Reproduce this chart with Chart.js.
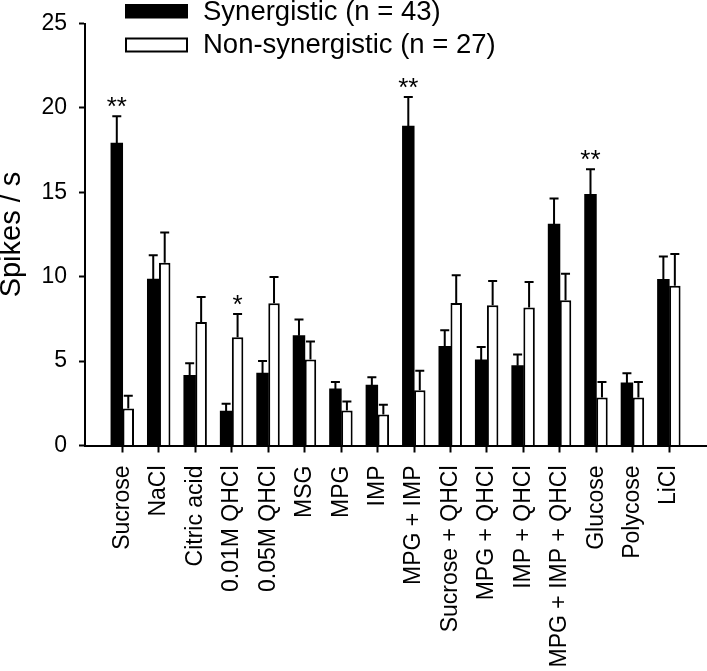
<!DOCTYPE html>
<html>
<head>
<meta charset="utf-8">
<script src="https://cdn.jsdelivr.net/npm/chart.js@4/dist/chart.umd.min.js"></script>
<style>
  html, body { margin: 0; padding: 0; background: #fff; }
  #wrap { width: 707px; height: 671px; }
</style>
</head>
<body>
<div id="wrap"><canvas id="c" width="707" height="671"></canvas></div>
<script>
const categories = ['Sucrose', 'NaCl', 'Citric acid', '0.01M QHCl', '0.05M QHCl', 'MSG', 'MPG', 'IMP',
  'MPG + IMP', 'Sucrose + QHCl', 'MPG + QHCl', 'IMP + QHCl', 'MPG + IMP + QHCl', 'Glucose', 'Polycose', 'LiCl'];
const synergistic    = [17.9, 9.85, 4.15, 2.03, 4.28, 6.5, 3.34, 3.57, 18.92, 5.87, 5.07, 4.72, 13.1, 14.87, 3.7, 9.84];
const synergisticErr = [1.6, 1.42, 0.73, 0.45, 0.73, 0.96, 0.42, 0.48, 1.72, 0.96, 0.76, 0.67, 1.54, 1.5, 0.58, 1.36];
const nonSynergistic    = [2.19, 10.82, 7.31, 6.41, 8.42, 5.1, 2.07, 1.84, 3.28, 8.44, 8.31, 8.17, 8.6, 2.84, 2.84, 9.46];
const nonSynergisticErr = [0.75, 1.8, 1.48, 1.38, 1.56, 1.06, 0.54, 0.58, 1.15, 1.65, 1.44, 1.52, 1.57, 0.92, 0.92, 1.88];
const synergisticStars    = ['**', '', '', '', '', '', '', '', '**', '', '', '', '', '**', '', ''];
const nonSynergisticStars = ['', '', '', '*', '', '', '', '', '', '', '', '', '', '', '', ''];
const seriesLabels = ['Synergistic (n = 43)', 'Non-synergistic (n = 27)'];
const yTicks = [0, 5, 10, 15, 20, 25];
const yTitle = 'Spikes / s';

const FONT = '"Liberation Sans", Arial, Helvetica, sans-serif';
const errs = [synergisticErr, nonSynergisticErr];
const stars = [synergisticStars, nonSynergisticStars];

const errorBarPlugin = {
  id: 'errorBars',
  afterDatasetsDraw(chart) {
    const ctx = chart.ctx;
    const y = chart.scales.y;
    ctx.save();
    ctx.strokeStyle = '#000';
    ctx.lineWidth = 2;
    ctx.fillStyle = '#000';
    ctx.font = '26px ' + FONT;
    ctx.textAlign = 'center';
    ctx.textBaseline = 'alphabetic';
    chart.data.datasets.forEach((ds, di) => {
      const meta = chart.getDatasetMeta(di);
      meta.data.forEach((el, i) => {
        const v = ds.data[i].y;
        const top = y.getPixelForValue(v + errs[di][i]);
        ctx.beginPath();
        ctx.moveTo(el.x, el.y);
        ctx.lineTo(el.x, top);
        ctx.moveTo(el.x - 4.5, top);
        ctx.lineTo(el.x + 4.5, top);
        ctx.stroke();
        if (stars[di][i]) {
          ctx.fillText(stars[di][i], el.x, top - 1);
        }
      });
    });
    ctx.restore();
  }
};

const legendPlugin = {
  id: 'customLegend',
  afterDraw(chart) {
    const ctx = chart.ctx;
    ctx.save();
    ctx.lineWidth = 2;
    ctx.strokeStyle = '#000';
    ctx.fillStyle = '#000';
    ctx.fillRect(125, 4, 63, 14.5);
    ctx.fillStyle = '#fff';
    ctx.fillRect(126, 38.5, 61, 13);
    ctx.strokeRect(126, 38.5, 61, 13);
    ctx.fillStyle = '#000';
    ctx.font = '27.5px ' + FONT;
    ctx.textAlign = 'left';
    ctx.textBaseline = 'middle';
    ctx.fillText(chart.data.datasets[0].label, 203, 12);
    ctx.fillText(chart.data.datasets[1].label, 203, 45);
    ctx.restore();
  }
};

new Chart(document.getElementById('c'), {
  type: 'bar',
  data: {
    datasets: [
      {
        label: seriesLabels[0],
        data: synergistic.map((v, i) => ({ x: i, y: v })),
        backgroundColor: '#000',
        borderColor: '#000',
        borderWidth: 0,
        inflateAmount: 0.5,
        categoryPercentage: 0.63,
        barPercentage: 1.0
      },
      {
        label: seriesLabels[1],
        data: nonSynergistic.map((v, i) => ({ x: i, y: v })),
        backgroundColor: '#fff',
        borderColor: '#000',
        borderWidth: 2,
        categoryPercentage: 0.63,
        barPercentage: 1.0
      }
    ]
  },
  options: {
    responsive: false,
    animation: false,
    layout: { padding: { top: 12.3, left: 0, right: 0, bottom: 0 } },
    plugins: { legend: { display: false }, tooltip: { enabled: false } },
    scales: {
      x: {
        type: 'linear',
        offset: false,
        min: -1.03,
        max: 16.04,
        afterBuildTicks(scale) { scale.ticks = categories.map((c, i) => ({ value: i })); },
        afterFit(scale) {
          scale.height = 225.5;
          scale.paddingLeft = 0;
          scale.paddingRight = 0;
        },
        ticks: {
          autoSkip: false,
          maxRotation: 90,
          minRotation: 90,
          padding: 13,
          color: '#000',
          font: { family: FONT, size: 23 },
          callback: (v) => categories[v]
        },
        grid: { offset: false, drawOnChartArea: false, drawTicks: true, tickLength: 7, tickColor: '#000', tickWidth: 2 },
        border: { color: '#000', width: 2 }
      },
      y: {
        min: 0,
        max: 25,
        afterBuildTicks(scale) { scale.ticks = yTicks.map(v => ({ value: v })); },
        afterFit(scale) { scale.width = 85; },
        ticks: {
          padding: 12,
          color: '#000',
          font: { family: FONT, size: 23, lineHeight: 1.0 }
        },
        title: {
          display: true,
          text: yTitle,
          color: '#000',
          padding: 0,
          font: { family: FONT, size: 29, lineHeight: 0.8 }
        },
        grid: { drawOnChartArea: false, drawTicks: true, tickLength: 6, tickColor: '#000', tickWidth: 2 },
        border: { color: '#000', width: 2 }
      }
    }
  },
  plugins: [errorBarPlugin, legendPlugin]
});
</script>
</body>
</html>
